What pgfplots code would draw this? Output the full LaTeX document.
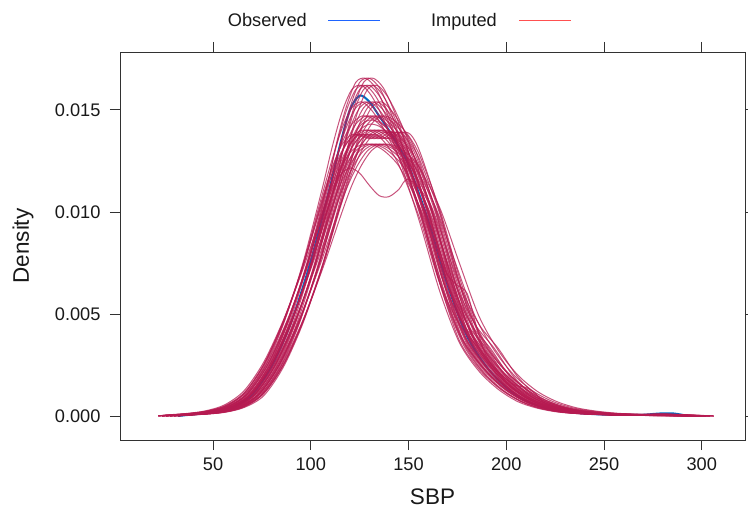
\documentclass[border=0pt]{standalone}
\usepackage{pgfplots}
\usepackage{pgfplotstable}
\pgfplotsset{compat=1.18}
\usepackage{fontspec}
\setmainfont{Liberation Sans}
\definecolor{impred}{RGB}{182,26,81}
\definecolor{obsblue}{RGB}{0,108,194}
\definecolor{legblue}{RGB}{30,100,255}
\definecolor{legred}{RGB}{255,80,80}
\definecolor{axgray}{RGB}{50,50,50}

% density values in units of 1e-5
\pgfplotstableread{
g a b c d e s1 s2 s3 s4 s5 s6 s7 s8
26 22 24 28 30 32 0 0 0 0 0 0 0 0
30 26 28 32 34 36 4 3 5 4 3 4 3 4
40 36 38 42 44 46 10 8 12 10 9 11 8 10
50 46 48 52 54 56 20 16 25 22 18 23 15 22
60 56 58 62 64 66 45 38 55 50 42 48 35 50
70 66 68 72 74 76 110 95 125 115 100 112 90 120
80 76 78 82 84 86 250 230 265 255 240 250 220 270
90 86 88 92 94 96 460 450 470 465 455 465 430 500
100 96 98 102 104 106 730 750 720 735 740 740 730 800
110 106 108 112 114 116 1060 1120 1000 1050 1090 1070 1110 1090
115 111 113 117 119 121 1210 1320 1130 1190 1260 1220 1330 1180
120 116 118 122 124 126 1340 1490 1230 1300 1410 1330 1510 1215
125 121 123 127 129 131 1430 1600 1300 1370 1510 1380 1635 1190
130 126 128 132 134 136 1470 1620 1330 1400 1540 1370 1655 1130
135 131 133 137 139 141 1460 1570 1330 1395 1500 1360 1610 1080
140 136 138 142 144 146 1420 1480 1310 1360 1430 1390 1510 1075
145 141 143 147 149 151 1360 1370 1270 1300 1340 1380 1380 1110
150 146 148 152 154 156 1270 1240 1210 1210 1250 1290 1230 1160
160 156 158 162 164 166 1010 940 1020 960 990 1000 920 1050
170 166 168 172 174 176 680 610 750 650 650 660 590 740
180 176 178 182 184 186 410 360 490 450 370 400 350 450
190 186 188 192 194 196 260 220 320 330 230 260 215 280
200 196 198 202 204 206 160 130 200 190 140 165 125 170
210 206 208 212 214 216 90 70 120 100 80 95 68 95
220 216 218 222 224 226 50 38 70 55 42 52 36 50
230 226 228 232 234 236 28 20 40 30 22 28 19 28
240 236 238 242 244 246 16 12 24 18 12 16 11 16
250 246 248 252 254 256 10 8 14 12 7 10 7 10
260 256 258 262 264 266 6 5 9 8 4 6 4 6
270 266 268 272 274 276 4 4 7 7 3 4 3 4
280 276 278 282 284 286 3 3 8 8 2 3 2 3
290 286 288 292 294 296 2 2 5 4 1 2 1 2
300 296 298 302 304 306 0 0 0 0 0 0 0 0
}\curves

\begin{document}
\begin{tikzpicture}
\begin{axis}[
  name=ax,
  scale only axis,
  width=625pt, height=388pt,
  xmin=2.43, xmax=322.1,
  ymin=-117.6, ymax=1784,
  xtick={50,100,150,200,250,300},
  ytick={0,500,1000,1500},
  yticklabels={0.000,0.005,0.010,0.015},
  tick align=outside,
  major tick length=10pt,
  xtick pos=both, ytick pos=both,
  xticklabel pos=lower, yticklabel pos=left,
  /pgf/number format/assume math mode=true,
  ticklabel style={font=\fontsize{18.2}{21}\selectfont, text=black!90},
  yticklabel style={xshift=-6pt},
  xticklabel style={yshift=-4pt},
  axis line style={draw=axgray, line width=0.9pt},
  every tick/.style={draw=axgray, line width=0.9pt},
  xlabel={SBP}, ylabel={Density},
  label style={font=\fontsize{22.5}{26}\selectfont, text=black!90},
  xlabel style={at={(axis description cs:0.5,-0.1675)}, anchor=base},
  ylabel style={at={(axis description cs:-0.1456,0.5)}, anchor=base},
  no markers,
  imp/.style={color=impred, opacity=0.75, line width=1pt, smooth},
]
% observed
\addplot[color=obsblue, line width=2pt, smooth] coordinates {
(32,0)(40,8)(50,18)(60,42)(70,105)(80,245)(90,460)(100,760)(110,1130)(115,1330)(120,1500)(125,1570)(130,1540)(135,1470)(140,1400)(145,1320)(150,1230)(160,960)(170,640)(180,390)(190,240)(200,140)(210,75)(220,40)(230,22)(240,12)(250,7)(260,5)(270,6)(275,10)(280,13)(285,13)(290,6)(293,0)};
% imputed
\addplot[imp] table[x=a,y=s1] {\curves};
\addplot[imp] table[x=b,y=s1] {\curves};
\addplot[imp] table[x=g,y=s1] {\curves};
\addplot[imp] table[x=c,y=s1] {\curves};
\addplot[imp] table[x=d,y=s1] {\curves};
\addplot[imp] table[x=e,y=s1] {\curves};
\addplot[imp] table[x=a,y=s2] {\curves};
\addplot[imp] table[x=b,y=s2] {\curves};
\addplot[imp] table[x=g,y=s2] {\curves};
\addplot[imp] table[x=c,y=s2] {\curves};
\addplot[imp] table[x=d,y=s2] {\curves};
\addplot[imp] table[x=a,y=s3] {\curves};
\addplot[imp] table[x=b,y=s3] {\curves};
\addplot[imp] table[x=g,y=s3] {\curves};
\addplot[imp] table[x=c,y=s3] {\curves};
\addplot[imp] table[x=d,y=s3] {\curves};
\addplot[imp] table[x=e,y=s3] {\curves};
\addplot[imp] table[x=a,y=s4] {\curves};
\addplot[imp] table[x=b,y=s4] {\curves};
\addplot[imp] table[x=g,y=s4] {\curves};
\addplot[imp] table[x=c,y=s4] {\curves};
\addplot[imp] table[x=d,y=s4] {\curves};
\addplot[imp] table[x=e,y=s4] {\curves};
\addplot[imp] table[x=a,y=s5] {\curves};
\addplot[imp] table[x=b,y=s5] {\curves};
\addplot[imp] table[x=g,y=s5] {\curves};
\addplot[imp] table[x=c,y=s5] {\curves};
\addplot[imp] table[x=d,y=s5] {\curves};
\addplot[imp] table[x=e,y=s5] {\curves};
\addplot[imp] table[x=a,y=s6] {\curves};
\addplot[imp] table[x=b,y=s6] {\curves};
\addplot[imp] table[x=g,y=s6] {\curves};
\addplot[imp] table[x=c,y=s6] {\curves};
\addplot[imp] table[x=d,y=s6] {\curves};
\addplot[imp] table[x=e,y=s6] {\curves};
\addplot[imp] table[x=b,y=s7] {\curves};
\addplot[imp] table[x=g,y=s7] {\curves};
\addplot[imp] table[x=c,y=s7] {\curves};
\addplot[imp] table[x=g,y=s8] {\curves};
\addplot[imp] coordinates {
(24,0)(30,4)(40,10)(50,20)(60,45)(70,110)(80,250)(90,460)(100,730)(110,1060)(115,1200)(120,1320)(125,1400)(130,1430)(135,1420)(140,1380)(145,1310)(150,1220)(160,950)(165,800)(170,690)(175,640)(180,600)(185,430)(190,290)(200,160)(210,90)(220,50)(230,28)(240,16)(250,10)(260,6)(270,4)(280,3)(290,2)(298,0)};
\addplot[imp] coordinates {
(28,0)(30,3)(40,10)(50,21)(60,47)(70,112)(80,252)(90,462)(100,728)(110,1050)(115,1200)(120,1330)(125,1420)(130,1450)(135,1440)(140,1400)(145,1340)(150,1260)(160,1000)(170,690)(180,420)(190,270)(200,180)(205,150)(210,140)(215,110)(220,60)(230,30)(240,16)(250,10)(260,7)(270,8)(280,11)(290,5)(302,0)};
\end{axis}
% legend
\node[anchor=base east, inner sep=0pt, font=\fontsize{18.2}{21}\selectfont, text=black!90] at ([shift={(187pt,25pt)}]ax.north west) {Observed};
\draw[legblue, line width=1.5pt] ([shift={(208pt,31.3pt)}]ax.north west) -- ([shift={(260pt,31.3pt)}]ax.north west);
\node[anchor=base east, inner sep=0pt, font=\fontsize{18.2}{21}\selectfont, text=black!90] at ([shift={(377pt,25pt)}]ax.north west) {Imputed};
\draw[legred, line width=1.5pt] ([shift={(399pt,31.3pt)}]ax.north west) -- ([shift={(451pt,31.3pt)}]ax.north west);
\pgfresetboundingbox
\path ([shift={(-120pt,-82pt)}]ax.south west) rectangle ([shift={(3pt,52pt)}]ax.north east);
\end{tikzpicture}
\end{document}
